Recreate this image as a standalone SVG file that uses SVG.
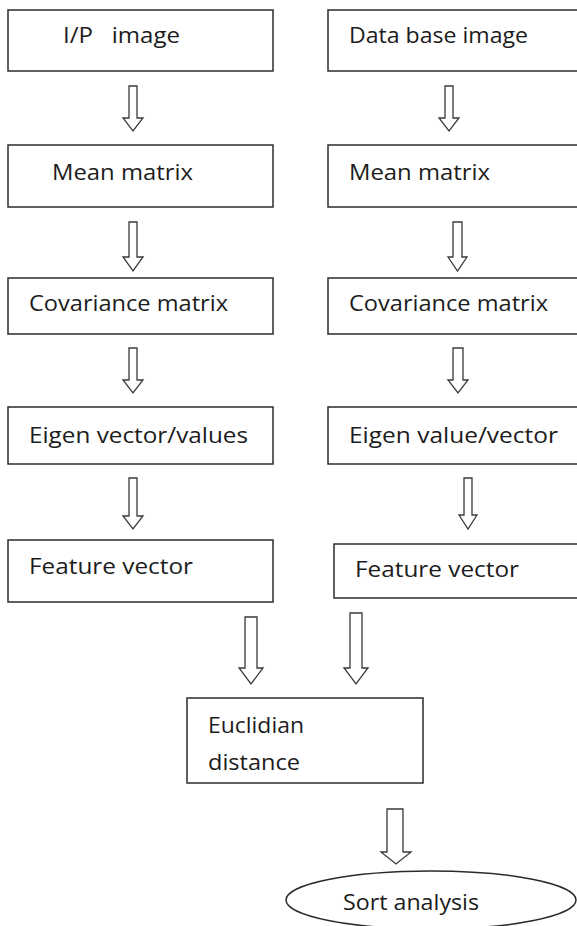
<svg xmlns="http://www.w3.org/2000/svg" width="577" height="926" viewBox="0 0 577 926">
  <style>
    .box { fill: #ffffff; stroke: #2b2b2b; stroke-width: 1.5; }
    .lbl { font-family: "Open Sans", "Liberation Sans", sans-serif; font-size: 22px; fill: #1c1c1c; }
    .arr { fill: #ffffff; stroke: #3a3a3a; stroke-width: 1.3; stroke-linejoin: miter; }
  </style>
  <rect width="577" height="926" fill="#ffffff"/>

  <!-- left column: input image pipeline -->
  <g id="ip-image">
    <rect class="box" x="8" y="10" width="265" height="61"/>
    <text class="lbl" x="63" y="43" xml:space="preserve" textLength="117" lengthAdjust="spacingAndGlyphs">I/P   image</text>
  </g>
  <g id="ip-mean">
    <rect class="box" x="8" y="145" width="265" height="62"/>
    <text class="lbl" x="52" y="180" textLength="141" lengthAdjust="spacingAndGlyphs">Mean matrix</text>
  </g>
  <g id="ip-cov">
    <rect class="box" x="8" y="278" width="265" height="56"/>
    <text class="lbl" x="29" y="311" textLength="199" lengthAdjust="spacingAndGlyphs">Covariance matrix</text>
  </g>
  <g id="ip-eigen">
    <rect class="box" x="8" y="407" width="265" height="57"/>
    <text class="lbl" x="29" y="443" textLength="219" lengthAdjust="spacingAndGlyphs">Eigen vector/values</text>
  </g>
  <g id="ip-feature">
    <rect class="box" x="8" y="540" width="265" height="62"/>
    <text class="lbl" x="29" y="574" textLength="164" lengthAdjust="spacingAndGlyphs">Feature vector</text>
  </g>

  <!-- right column: database image pipeline (boxes run off the right edge) -->
  <g id="db-image">
    <rect class="box" x="328" y="10" width="260" height="61"/>
    <text class="lbl" x="349" y="43" textLength="179" lengthAdjust="spacingAndGlyphs">Data base image</text>
  </g>
  <g id="db-mean">
    <rect class="box" x="328" y="145" width="260" height="62"/>
    <text class="lbl" x="349" y="180" textLength="141" lengthAdjust="spacingAndGlyphs">Mean matrix</text>
  </g>
  <g id="db-cov">
    <rect class="box" x="328" y="278" width="260" height="56"/>
    <text class="lbl" x="349" y="311" textLength="199" lengthAdjust="spacingAndGlyphs">Covariance matrix</text>
  </g>
  <g id="db-eigen">
    <rect class="box" x="328" y="407" width="260" height="57"/>
    <text class="lbl" x="349" y="443" textLength="209" lengthAdjust="spacingAndGlyphs">Eigen value/vector</text>
  </g>
  <g id="db-feature">
    <rect class="box" x="334" y="544" width="254" height="54"/>
    <text class="lbl" x="355" y="577" textLength="164" lengthAdjust="spacingAndGlyphs">Feature vector</text>
  </g>

  <!-- merge and result -->
  <g id="euclid">
    <rect class="box" x="187" y="698" width="236" height="85"/>
    <text class="lbl" x="208" y="733" textLength="96" lengthAdjust="spacingAndGlyphs">Euclidian</text>
    <text class="lbl" x="208" y="770" textLength="92" lengthAdjust="spacingAndGlyphs">distance</text>
  </g>
  <g id="sort">
    <ellipse class="box" cx="431" cy="900" rx="145" ry="29"/>
    <text class="lbl" x="343" y="910" textLength="136" lengthAdjust="spacingAndGlyphs">Sort analysis</text>
  </g>

  <!-- hollow block arrows -->
  <g id="connectors">
    <polygon class="arr" points="129,86 137,86 137,118 143,118 133,131 123,118 129,118"/>
    <polygon class="arr" points="129,222 137,222 137,257 143,257 133,271 123,257 129,257"/>
    <polygon class="arr" points="129,348 137,348 137,380 143,380 133,393 123,380 129,380"/>
    <polygon class="arr" points="129,478 137,478 137,516 143,516 133,529 123,516 129,516"/>

    <polygon class="arr" points="445,86 453,86 453,118 459,118 449,131 439,118 445,118"/>
    <polygon class="arr" points="453,222 462,222 462,257 467,257 457.5,271 448,257 453,257"/>
    <polygon class="arr" points="453,348 463,348 463,380 468,380 458,393 448,380 453,380"/>
    <polygon class="arr" points="464,478 472,478 472,515 477,515 468,529 459,515 464,515"/>

    <polygon class="arr" points="245,617 257,617 257,668 263,668 251,684 239,668 245,668"/>
    <polygon class="arr" points="350,613 362,613 362,668 368,668 356,684 344,668 350,668"/>

    <polygon class="arr" points="387,809 403,809 403,852 411,852 396,864 381,852 387,852"/>
  </g>
</svg>
